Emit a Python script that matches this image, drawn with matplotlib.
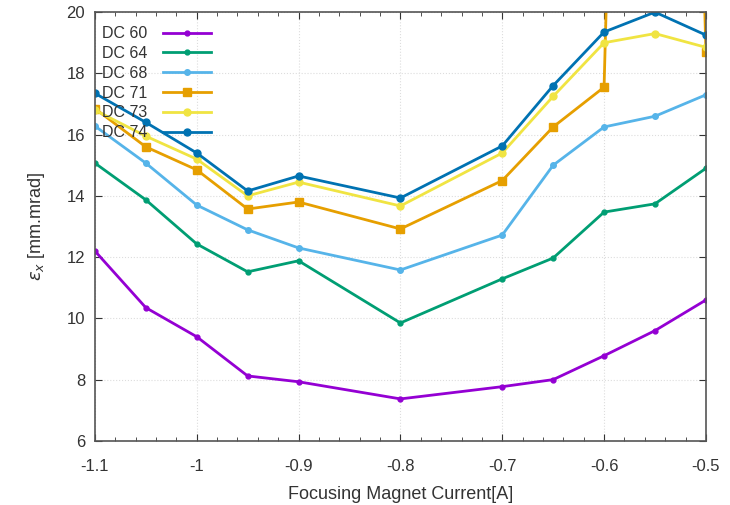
import matplotlib.pyplot as plt
from matplotlib.ticker import MultipleLocator

# Emittans mot fokuseringsmagnetens ström för olika DC-inställningar
current = [-1.1, -1.05, -1.0, -0.95, -0.9, -0.8, -0.7, -0.65, -0.6, -0.55, -0.5]

dc60 = [12.2, 10.35, 9.4, 8.12, 7.93, 7.37, 7.77, 8.0, 8.78, 9.6, 10.6]
dc64 = [15.07, 13.87, 12.43, 11.52, 11.88, 9.85, 11.29, 11.97, 13.47, 13.74, 14.9]
dc68 = [16.28, 15.07, 13.7, 12.89, 12.3, 11.58, 12.72, 15.0, 16.25, 16.6, 17.3]
dc71 = [16.85, 15.6, 14.85, 13.57, 13.8, 12.92, 14.5, 16.25, 17.55, 80.0, 18.7]
dc73 = [16.8, 15.95, 15.2, 14.0, 14.45, 13.67, 15.4, 17.25, 19.0, 19.3, 18.85]
dc74 = [17.35, 16.4, 15.4, 14.16, 14.65, 13.93, 15.63, 17.6, 19.35, 20.0, 19.25]

labels = ["DC 60", "DC 64", "DC 68", "DC 71", "DC 73", "DC 74"]
colors = ["#9400d3", "#009e73", "#56b4e9", "#e69f00", "#f0e442", "#0072b2"]
markers = ["o", "o", "o", "s", "o", "o"]
sizes = [3.5, 3.5, 4, 5.5, 5, 5]

plt.rcParams['font.family'] = ['Liberation Sans', 'DejaVu Sans']

fig = plt.figure(figsize=(7.3, 5.05), dpi=100)
ax = fig.add_axes([0.130, 0.127, 0.837, 0.849])

series = [dc60, dc64, dc68, dc71, dc73, dc74]
for i in range(len(series)):
    ax.plot(current, series[i], color=colors[i], marker=markers[i],
            markersize=sizes[i], linewidth=2, label=labels[i])

ax.set_xlim(-1.1, -0.5)
ax.set_ylim(6, 20)
ax.set_xticks([-1.1, -1.0, -0.9, -0.8, -0.7, -0.6, -0.5])
ax.set_xticklabels(["-1.1", "-1", "-0.9", "-0.8", "-0.7", "-0.6", "-0.5"])
ax.xaxis.set_minor_locator(MultipleLocator(0.02))
ax.set_yticks([6, 8, 10, 12, 14, 16, 18, 20])
ax.tick_params(axis='both', which='both', direction='in', top=True, right=True,
               labelsize=12, colors='#333333')
ax.tick_params(axis='both', which='major', length=5)
ax.tick_params(axis='both', which='minor', length=3)
ax.tick_params(axis='x', which='major', pad=13)
ax.tick_params(axis='y', which='major', pad=7)
ax.grid(True, color='#dddddd', linestyle=':', linewidth=0.8)
for s in ax.spines.values():
    s.set_color('#555555')
    s.set_linewidth(1.2)

ax.set_xlabel("Focusing Magnet Current[A]", fontsize=13, color='#333333', labelpad=9)
ax.set_ylabel(r"$\epsilon_x$ [mm.mrad]", fontsize=13, color='#333333', labelpad=14)

ax.legend(loc='upper left', bbox_to_anchor=(0.0, 0.984), frameon=False,
          markerfirst=False, handlelength=3.0, fontsize=11.5, labelspacing=0.3,
          borderaxespad=0.05, handletextpad=1.0, labelcolor='#333333')

fig.savefig("out.png", dpi=100)
